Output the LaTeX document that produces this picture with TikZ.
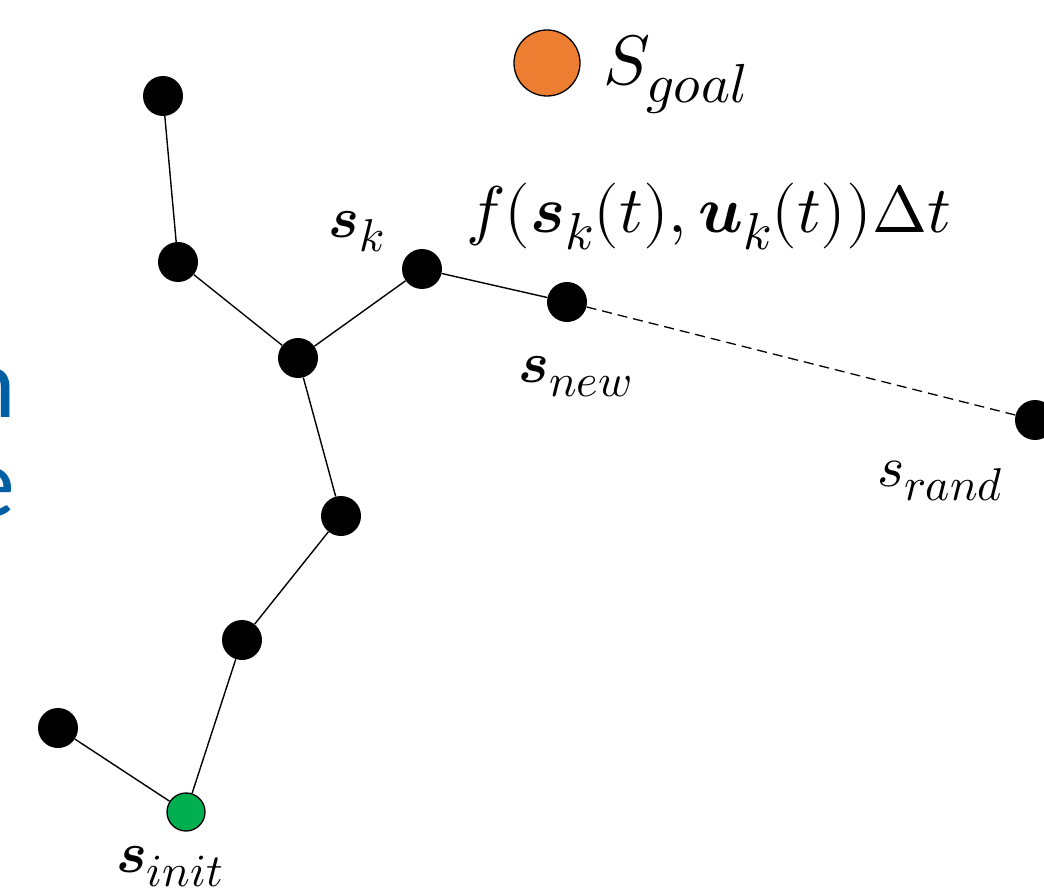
\documentclass[tikz,border=0pt]{standalone}
\usepackage{fontspec}
\usepackage{unicode-math}
\setmathfont{Latin Modern Math}
\DeclareMathSizes{58}{58}{46}{36}
\DeclareMathSizes{66}{66}{52}{41}
\DeclareMathSizes{70}{70}{55}{44}
\newfontfamily\blufont{Carlito}
\definecolor{dotorange}{RGB}{237,125,49}
\definecolor{dotgreen}{RGB}{0,176,80}
\definecolor{txtblue}{RGB}{0,94,162}
\tikzset{
  dotnode/.style={circle,fill=black,inner sep=0pt,minimum size=40pt},
  edge/.style={line width=1.4pt},
  dashedge/.style={line width=1.3pt,dash pattern=on 10pt off 6pt},
  lbl/.style={inner sep=0pt,anchor=base west,font=\fontsize{58}{70}\selectfont},
}
\begin{document}
\begin{tikzpicture}[x=1pt,y=-1pt]
\useasboundingbox (0,0) rectangle (1044,896);
\clip (0,0) rectangle (1044,896);
% clipped blue text fragments at the left edge
\node[inner sep=0pt,anchor=base east,text=txtblue,font=\blufont\fontsize{100}{120}\selectfont] (fragn) at (16,417) {n};
\node[inner sep=0pt,anchor=base east,text=txtblue,font=\blufont\fontsize{100}{120}\selectfont] (frage) at (15,516) {e};
% nodes
\node[dotnode] (top) at (163,96) {};
\node[dotnode] (a) at (178,262) {};
\node[dotnode] (b) at (298,358) {};
\node[dotnode] (sk) at (422,269) {};
\node[dotnode] (snew) at (567,302) {};
\node[dotnode] (srand) at (1035,420) {};
\node[dotnode] (c) at (341,516) {};
\node[dotnode] (d) at (242,640) {};
\node[dotnode] (e) at (58,728) {};
\node[circle,draw=black,line width=1.3pt,fill=dotgreen,inner sep=0pt,minimum size=38pt] (sinit) at (186,812) {};
\node[circle,draw=black,line width=1.3pt,fill=dotorange,inner sep=0pt,minimum size=66pt] (goal) at (547,63) {};
% edges
\draw[edge] (top) -- (a);
\draw[edge] (a) -- (b);
\draw[edge] (b) -- (sk);
\draw[edge] (sk) -- (snew);
\draw[edge] (b) -- (c);
\draw[edge] (c) -- (d);
\draw[edge] (d) -- (sinit);
\draw[edge] (e) -- (sinit);
\draw[dashedge] (snew) -- (srand);
% labels
\node[lbl,font=\fontsize{70}{84}\selectfont] (lgoal) at (603,85) {$S_{goal}$};
\node[lbl] (lsk) at (328,237) {$\symbfit{s}_k$};
\node[lbl,font=\fontsize{66}{80}\selectfont] (lf) at (466,233) {$f(\symbfit{s}_k(t),\symbfit{u}_k(t))\Delta t$};
\node[lbl] (lnew) at (518,382) {$\symbfit{s}_{new}$};
\node[lbl] (lrand) at (877,486) {$s_{rand}$};
\node[lbl] (linit) at (116,872) {$\symbfit{s}_{init}$};
\end{tikzpicture}
\end{document}
